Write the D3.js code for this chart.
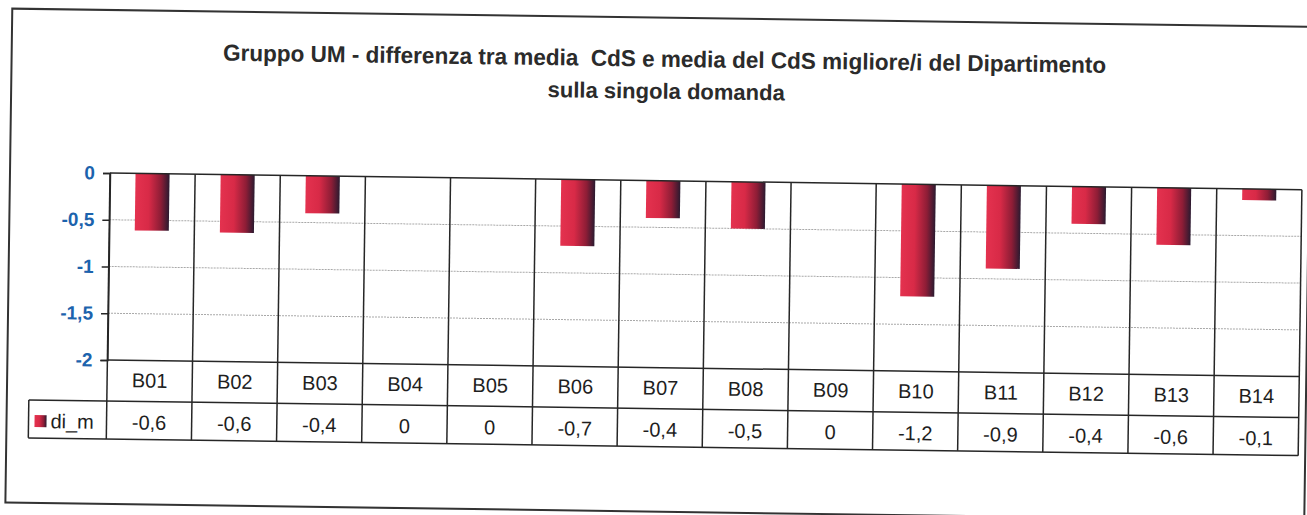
<html>

<head>
    <title>Gruppo UM - differenza tra media CdS e media del CdS migliore/i</title>
    <script src="https://d3js.org/d3.v7.min.js"></script>
    <style>
        body { margin: 0; background: #fff; }
        text { font-family: "Liberation Sans", Arial, sans-serif; }
    </style>
</head>

<body>
    <div id="myPlot"></div>
    <script>
        var categories = ["B01", "B02", "B03", "B04", "B05", "B06", "B07", "B08", "B09", "B10", "B11", "B12", "B13", "B14"];
        var values = [-0.61, -0.62, -0.4, 0, 0, -0.71, -0.4, -0.5, 0, -1.2, -0.89, -0.4, -0.61, -0.12];
        var yTicks = [0, -0.5, -1, -1.5, -2];
        var seriesName = "di_m";
        var titleLines = ["Gruppo UM - differenza tra media  CdS e media del CdS migliore/i del Dipartimento", "sulla singola domanda"];

        var W = 1307, H = 515;
        // plot box (before the scan tilt)
        var plotLeft = 110, plotTop = 173, plotRight = 1302, plotBottom = 360;
        var row1 = 401, row2 = 439, legendLeft = 32;
        var lineColor = "#262626";

        var it = d3.formatLocale({ decimal: ",", thousands: ".", grouping: [3], currency: ["", "€"], minus: "-" });
        var fmt = it.format(".1~f");

        var svg = d3.select("#myPlot").append("svg")
            .attr("width", W)
            .attr("height", H);

        var defs = svg.append("defs");
        var grad = defs.append("linearGradient")
            .attr("id", "barGrad")
            .attr("x1", "0%").attr("x2", "100%").attr("y1", "0%").attr("y2", "0%");
        grad.append("stop").attr("offset", "0%").attr("stop-color", "#e4324f");
        grad.append("stop").attr("offset", "40%").attr("stop-color", "#d82a47");
        grad.append("stop").attr("offset", "75%").attr("stop-color", "#8e1d36");
        grad.append("stop").attr("offset", "100%").attr("stop-color", "#2b1a30");

        // the scanned page is slightly tilted
        var g = svg.append("g").attr("transform", "rotate(0.8," + plotLeft + "," + plotTop + ")");

        // outer frame
        g.append("rect")
            .attr("x", 10).attr("y", 10)
            .attr("width", 1299).attr("height", 494)
            .attr("fill", "none")
            .attr("stroke", "#333")
            .attr("stroke-width", 2);

        // title
        g.append("text")
            .attr("x", 663).attr("y", 59)
            .attr("text-anchor", "middle")
            .attr("textLength", 883)
            .attr("lengthAdjust", "spacingAndGlyphs")
            .style("white-space", "pre")
            .style("font-size", "23px")
            .style("font-weight", "bold")
            .style("fill", "#2b2b2b")
            .text(titleLines[0]);
        g.append("text")
            .attr("x", 665).attr("y", 91)
            .attr("text-anchor", "middle")
            .style("font-size", "22px")
            .style("font-weight", "bold")
            .style("fill", "#2b2b2b")
            .text(titleLines[1]);

        var x = d3.scaleBand()
            .domain(categories)
            .range([plotLeft, plotRight])
            .paddingInner(0)
            .paddingOuter(0);

        var y = d3.scaleLinear()
            .domain([-2, 0])
            .range([plotBottom, plotTop]);

        // gridlines
        g.selectAll(".grid")
            .data(yTicks.filter(function (d) { return d !== 0 && d !== -2; }))
            .enter()
            .append("line")
            .attr("x1", plotLeft).attr("x2", plotRight)
            .attr("y1", function (d) { return y(d); })
            .attr("y2", function (d) { return y(d); })
            .attr("stroke", "#a8a8a8")
            .attr("stroke-width", 1)
            .attr("stroke-dasharray", "2,1");

        // y axis
        var yAxis = g.append("g")
            .attr("transform", "translate(" + plotLeft + ",0)")
            .call(d3.axisLeft(y).tickValues(yTicks).tickFormat(fmt).tickSize(7).tickPadding(8));
        yAxis.select(".domain").attr("stroke", lineColor).attr("stroke-width", 1.5);
        yAxis.selectAll(".tick line").attr("stroke", lineColor).attr("stroke-width", 1.5);
        yAxis.selectAll(".tick text")
            .style("font-family", "\"Liberation Sans\", Arial, sans-serif")
            .style("font-size", "19px")
            .style("font-weight", "bold")
            .attr("fill", "#1c63ad");

        // bars
        g.selectAll(".bar")
            .data(values)
            .enter()
            .append("rect")
            .attr("class", "bar")
            .attr("x", function (d, i) { return x(categories[i]) + x.bandwidth() * 0.3; })
            .attr("width", x.bandwidth() * 0.4)
            .attr("y", y(0))
            .attr("height", function (d) { return y(d) - y(0); })
            .attr("fill", "url(#barGrad)");

        // plot & table lines
        g.append("line").attr("x1", plotLeft).attr("x2", plotRight).attr("y1", plotTop).attr("y2", plotTop)
            .attr("stroke", lineColor).attr("stroke-width", 1.5);
        g.append("line").attr("x1", plotLeft).attr("x2", plotRight).attr("y1", plotBottom).attr("y2", plotBottom)
            .attr("stroke", lineColor).attr("stroke-width", 1.5);
        g.append("line").attr("x1", legendLeft).attr("x2", plotRight).attr("y1", row1).attr("y2", row1)
            .attr("stroke", lineColor).attr("stroke-width", 1.5);
        g.append("line").attr("x1", legendLeft).attr("x2", plotRight).attr("y1", row2).attr("y2", row2)
            .attr("stroke", lineColor).attr("stroke-width", 1.5);
        g.append("line").attr("x1", legendLeft).attr("x2", legendLeft).attr("y1", row1).attr("y2", row2)
            .attr("stroke", lineColor).attr("stroke-width", 1.5);
        g.append("line").attr("x1", plotLeft).attr("x2", plotLeft).attr("y1", plotTop).attr("y2", row2)
            .attr("stroke", lineColor).attr("stroke-width", 1.5);

        g.selectAll(".sep")
            .data(categories)
            .enter()
            .append("line")
            .attr("x1", function (d) { return x(d) + x.bandwidth(); })
            .attr("x2", function (d) { return x(d) + x.bandwidth(); })
            .attr("y1", plotTop).attr("y2", row2)
            .attr("stroke", lineColor).attr("stroke-width", 1.5);

        // category labels
        g.selectAll(".cat")
            .data(categories)
            .enter()
            .append("text")
            .attr("x", function (d) { return x(d) + x.bandwidth() / 2; })
            .attr("y", 387)
            .attr("text-anchor", "middle")
            .style("font-size", "20px")
            .style("fill", "#1e1e1e")
            .text(function (d) { return d; });

        // value labels
        g.selectAll(".val")
            .data(values)
            .enter()
            .append("text")
            .attr("x", function (d, i) { return x(categories[i]) + x.bandwidth() / 2; })
            .attr("y", 429)
            .attr("text-anchor", "middle")
            .style("font-size", "20px")
            .style("fill", "#1e1e1e")
            .text(function (d) { return fmt(d); });

        // legend key
        g.append("rect")
            .attr("x", 38).attr("y", 416)
            .attr("width", 12).attr("height", 12)
            .attr("fill", "url(#barGrad)");
        g.append("text")
            .attr("x", 54).attr("y", 429)
            .style("font-size", "20px")
            .style("fill", "#1e1e1e")
            .text(seriesName);
    </script>
</body>

</html>
